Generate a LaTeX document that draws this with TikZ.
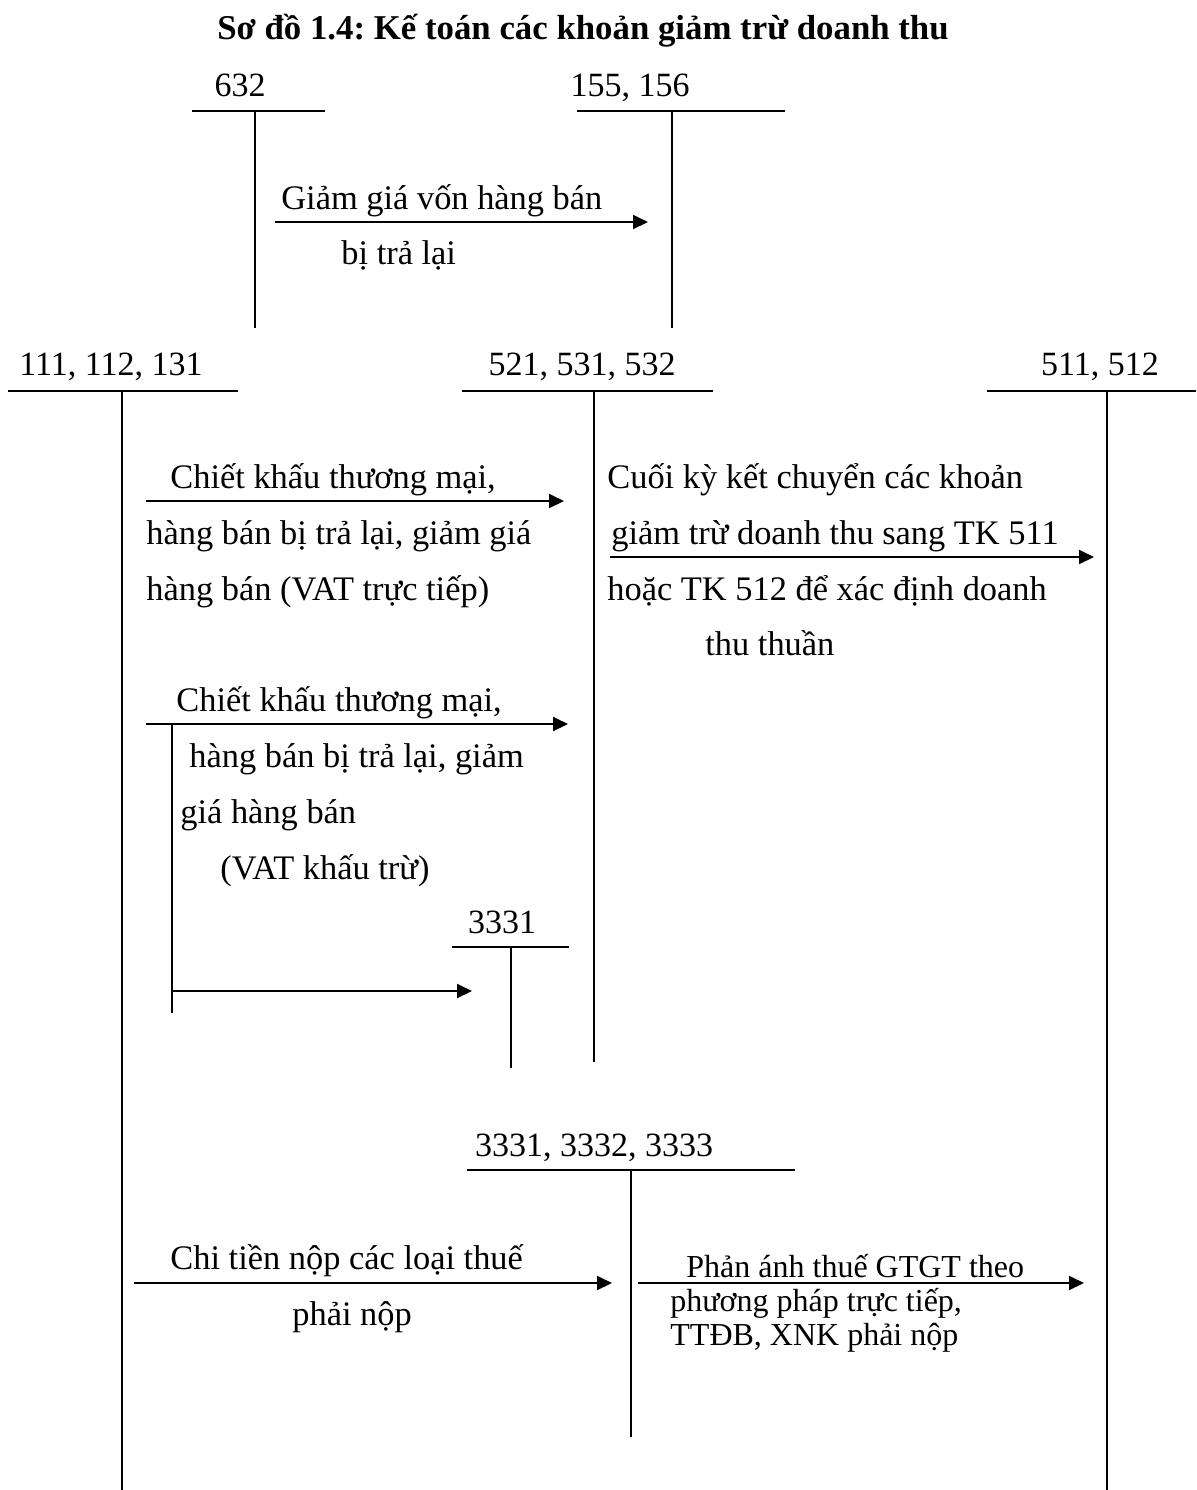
\documentclass[tikz,border=0pt]{standalone}
\usepackage{fontspec}
\setmainfont{Liberation Serif}
\usetikzlibrary{arrows.meta}
\frenchspacing
\begin{document}
\begin{tikzpicture}[x=0.5pt,y=-0.5pt,
  acc/.style={line width=1pt},
  flow/.style={line width=1pt,-{Triangle[length=7.5pt,width=7pt]}},
  txt/.style={inner sep=0pt,anchor=base west,font=\fontsize{17.2}{20}\selectfont},
  sml/.style={inner sep=0pt,anchor=base west,font=\fontsize{16}{18}\selectfont},
  num/.style={inner sep=0pt,anchor=base,font=\fontsize{17}{20}\selectfont},
  ttl/.style={inner sep=0pt,anchor=base,font=\fontsize{17.4}{20}\selectfont\bfseries}]
\useasboundingbox (0,0) rectangle (1196,1490);

\node[ttl] (title) at (583,39) {Sơ đồ 1.4: Kế toán các khoản giảm trừ doanh thu};

% ---- T-account 632
\node[num] (n632) at (240,96) {632};
\coordinate (h632a) at (192,111); \coordinate (h632b) at (325,111);
\coordinate (v632a) at (255,111); \coordinate (v632b) at (255,328);
\draw[acc] (h632a) -- (h632b); \draw[acc] (v632a) -- (v632b);

% ---- T-account 155, 156
\node[num] (n155) at (630,96) {155, 156};
\coordinate (h155a) at (577,111); \coordinate (h155b) at (785,111);
\coordinate (v155a) at (672,111); \coordinate (v155b) at (672,328);
\draw[acc] (h155a) -- (h155b); \draw[acc] (v155a) -- (v155b);

% ---- T-account 111, 112, 131
\node[num] (n111) at (111,375) {111, 112, 131};
\coordinate (h111a) at (8,391); \coordinate (h111b) at (238,391);
\coordinate (v111a) at (122,391); \coordinate (v111b) at (122,1490);
\draw[acc] (h111a) -- (h111b); \draw[acc] (v111a) -- (v111b);

% ---- T-account 521, 531, 532
\node[num] (n521) at (582,375) {521, 531, 532};
\coordinate (h521a) at (462,391); \coordinate (h521b) at (713,391);
\coordinate (v521a) at (594,391); \coordinate (v521b) at (594,1062);
\draw[acc] (h521a) -- (h521b); \draw[acc] (v521a) -- (v521b);

% ---- T-account 511, 512
\node[num] (n511) at (1100,375) {511, 512};
\coordinate (h511a) at (987,391); \coordinate (h511b) at (1196,391);
\coordinate (v511a) at (1107,391); \coordinate (v511b) at (1107,1490);
\draw[acc] (h511a) -- (h511b); \draw[acc] (v511a) -- (v511b);

% ---- T-account 3331
\node[num] (n3331) at (502,933) {3331};
\coordinate (h3331a) at (452,947); \coordinate (h3331b) at (569,947);
\coordinate (v3331a) at (511,947); \coordinate (v3331b) at (511,1068);
\draw[acc] (h3331a) -- (h3331b); \draw[acc] (v3331a) -- (v3331b);

% ---- T-account 3331, 3332, 3333
\node[num] (n3333) at (594,1156) {3331, 3332, 3333};
\coordinate (h3333a) at (467,1170); \coordinate (h3333b) at (795,1170);
\coordinate (v3333a) at (631,1170); \coordinate (v3333b) at (631,1437);
\draw[acc] (h3333a) -- (h3333b); \draw[acc] (v3333a) -- (v3333b);

% ---- Flow 632 -> 155,156
\coordinate (f1a) at (275,222); \coordinate (f1b) at (648,222);
\draw[flow] (f1a) -- (f1b);
\node[txt] (t1a) at (281,209) {Giảm giá vốn hàng bán};
\node[txt] (t1b) at (341,264) {bị trả lại};

% ---- Flow 111 -> 521 (VAT truc tiep)
\coordinate (f2a) at (146,501); \coordinate (f2b) at (564,501);
\draw[flow] (f2a) -- (f2b);
\node[txt] (t2a) at (170,488) {Chiết khấu thương mại,};
\node[txt] (t2b) at (146,544) {hàng bán bị trả lại, giảm giá};
\node[txt] (t2c) at (146,600) {hàng bán (VAT trực tiếp)};

% ---- Flow 521 -> 511
\coordinate (f3a) at (610,557); \coordinate (f3b) at (1094,557);
\draw[flow] (f3a) -- (f3b);
\node[txt] (t3a) at (607,488) {Cuối kỳ kết chuyển các khoản};
\node[txt] (t3b) at (611,544) {giảm trừ doanh thu sang TK 511};
\node[txt] (t3c) at (607,600) {hoặc TK 512 để xác định doanh};
\node[txt] (t3d) at (705,655) {thu thuần};

% ---- Flow 111 -> 521 (VAT khau tru)
\coordinate (f4a) at (146,724); \coordinate (f4b) at (568,724);
\draw[flow] (f4a) -- (f4b);
\node[txt] (t4a) at (176,711) {Chiết khấu thương mại,};
\node[txt] (t4b) at (189,767) {hàng bán bị trả lại, giảm};
\node[txt] (t4c) at (180,823) {giá hàng bán};
\node[txt] (t4d) at (220,879) {(VAT khấu trừ)};
\coordinate (b4a) at (172,724); \coordinate (b4b) at (172,1013);
\draw[acc] (b4a) -- (b4b);
\coordinate (f5a) at (172,991); \coordinate (f5b) at (472,991);
\draw[flow] (f5a) -- (f5b);

% ---- Flow 111 -> 3331,3332,3333
\coordinate (f6a) at (134,1283); \coordinate (f6b) at (612,1283);
\draw[flow] (f6a) -- (f6b);
\node[txt] (t6a) at (170,1269) {Chi tiền nộp các loại thuế};
\node[txt] (t6b) at (292,1325) {phải nộp};

% ---- Flow 3331,3332,3333 -> 511
\coordinate (f7a) at (638,1283); \coordinate (f7b) at (1084,1283);
\draw[flow] (f7a) -- (f7b);
\node[sml] (t7a) at (686,1277) {Phản ánh thuế GTGT theo};
\node[sml] (t7b) at (670,1311) {phương pháp trực tiếp,};
\node[sml] (t7c) at (670,1345) {TTĐB, XNK phải nộp};
\end{tikzpicture}
\end{document}
